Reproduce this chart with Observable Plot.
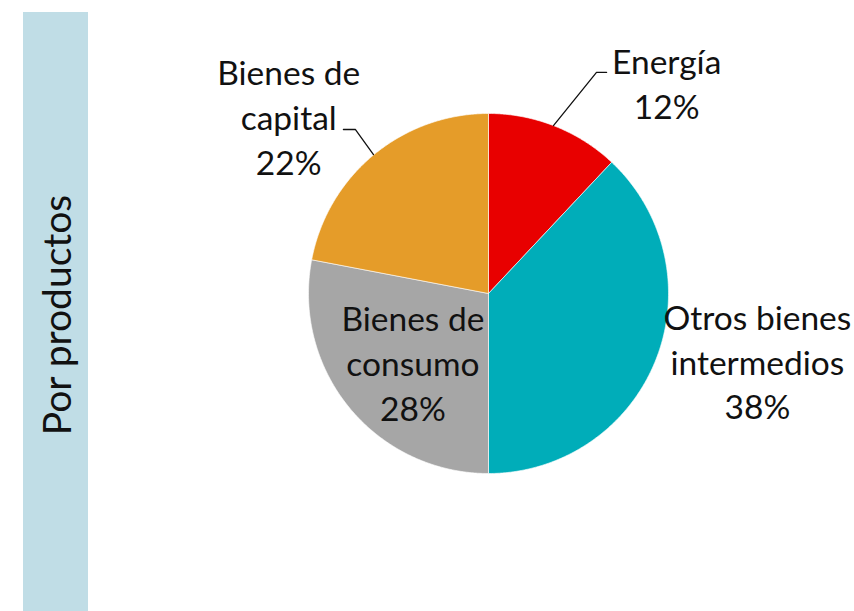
<!DOCTYPE html>
<html>
<head>
<meta charset="utf-8">
<script src="https://cdn.jsdelivr.net/npm/d3@7"></script>
<script src="https://cdn.jsdelivr.net/npm/@observablehq/plot@0.6"></script>
<style>
  html, body { margin: 0; padding: 0; background: #fff; }
  #wrap { position: relative; width: 854px; height: 611px; overflow: hidden; font-family: Lato, "Open Sans", sans-serif; }
  #band { position: absolute; left: 23px; top: 12px; width: 65px; height: 599px; background: #c0dde6; }
  #band span { position: absolute; left: 50%; top: 303px; transform: translate(-50%, -50%) rotate(-90deg); white-space: nowrap; font-size: 39px; line-height: 1; color: #111; }
  #chart { position: absolute; left: 0; top: 0; }
</style>
</head>
<body>
<div id="wrap">
  <div id="band"><span>Por productos</span></div>
  <div id="chart"></div>
</div>
<script>
const categories = ["Energía", "Otros bienes intermedios", "Bienes de consumo", "Bienes de capital"];
const shares = [12, 38, 28, 22];
const colors = ["#e80000", "#00adb9", "#a6a6a6", "#e59c29"];
const labelLines = [["Energía", "12%"], ["Otros bienes", "intermedios", "38%"], ["Bienes de", "consumo", "28%"], ["Bienes de", "capital", "22%"]];

// layout (in units of pie radius, center at 0,0)
const labelPos = [[0.99, 1.175], [1.494, -0.37], [-0.42, -0.378], [-1.11, 0.99]];
const leaderPts = [
  [[0.361, 0.933], [0.600, 1.228], [0.656, 1.228]],
  null, null,
  [[-0.639, 0.772], [-0.739, 0.911], [-0.806, 0.911]]
];

const total = d3.sum(shares);
const slices = [];
let acc = 0;
shares.forEach((v, i) => {
  const a0 = acc / total * 2 * Math.PI;
  acc += v;
  const a1 = acc / total * 2 * Math.PI;
  slices.push({cat: categories[i], x: 0, y: 0, k: 0});
  const n = Math.max(2, Math.ceil((a1 - a0) / (Math.PI / 360)));
  for (let j = 0; j <= n; j++) {
    const t = a0 + (a1 - a0) * j / n;
    slices.push({cat: categories[i], x: Math.sin(t), y: Math.cos(t), k: j + 1});
  }
  slices.push({cat: categories[i], x: 0, y: 0, k: n + 2});
});

const labels = categories.map((c, i) => ({cat: c, x: labelPos[i][0], y: labelPos[i][1], text: labelLines[i].join("\n")}));
const leaders = [];
leaderPts.forEach((pts, i) => { if (pts) pts.forEach(p => leaders.push({cat: categories[i], x: p[0], y: p[1]})); });

const R = 180, cx = 488, cy = 293, W = 854, H = 611;
const chart = Plot.plot({
  width: W, height: H,
  margin: 0,
  x: {domain: [-cx / R, (W - cx) / R], range: [0, W], axis: null},
  y: {domain: [cy / R, -(H - cy) / R], range: [0, H], axis: null},
  color: {domain: categories, range: colors},
  style: {fontFamily: "Lato, 'Open Sans', sans-serif", background: "transparent"},
  marks: [
    Plot.line(slices, {x: "x", y: "y", z: "cat", fill: "cat", stroke: "white", strokeWidth: 0.6}),
    Plot.line(leaders, {x: "x", y: "y", z: "cat", stroke: "#111", strokeWidth: 1.3}),
    Plot.text(labels, {x: "x", y: "y", text: "text", fontSize: 33.5, lineHeight: 1.343, fill: "#111", textAnchor: "middle"})
  ]
});
document.getElementById("chart").appendChild(chart);
</script>
</body>
</html>
